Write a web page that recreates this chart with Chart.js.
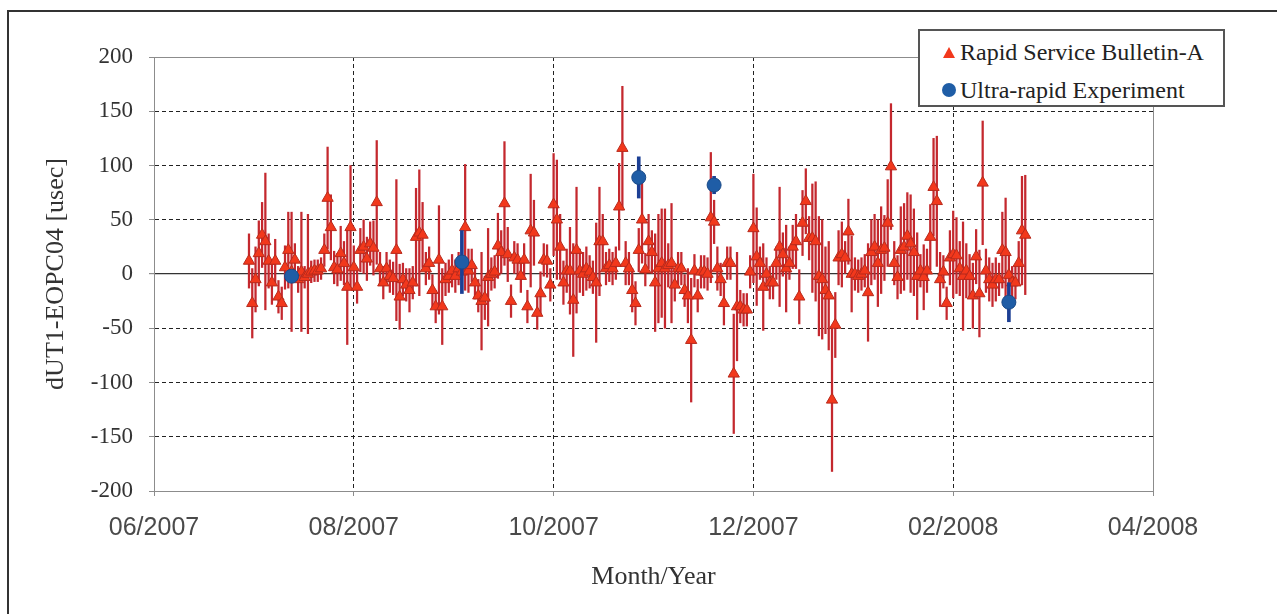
<!DOCTYPE html>
<html>
<head>
<meta charset="utf-8">
<script src="https://cdn.jsdelivr.net/npm/chart.js@4.4.1/dist/chart.umd.min.js"></script>
<style>
html,body{margin:0;padding:0;background:#fff;}
#wrap{position:relative;width:1277px;height:614px;overflow:hidden;background:#fff;}
#frame{position:absolute;left:7px;top:10px;width:1280px;height:620px;border-left:2px solid #333;border-top:2px solid #333;box-sizing:border-box;pointer-events:none;}
#c{position:absolute;left:0;top:0;}
#legend{position:absolute;left:918px;top:29px;width:307px;height:78px;box-sizing:border-box;border:2px solid #555;background:#fff;font-family:'Liberation Serif','DejaVu Serif',serif;font-size:24px;color:#222;}
.row{position:absolute;left:0;height:30px;line-height:30px;white-space:nowrap;}
.row .txt{position:absolute;left:40px;top:0;}
.tri{position:absolute;left:23px;top:10px;width:0;height:0;border-left:6px solid transparent;border-right:6px solid transparent;border-bottom:11px solid #F2381C;}
.dot{position:absolute;left:22px;top:8px;width:14px;height:14px;border-radius:50%;background:#1F5DA6;}
</style>
</head>
<body>
<div id="wrap">
  <canvas id="c" width="1277" height="614"></canvas>
  <div id="frame"></div>
  <div id="legend"></div>
</div>
<script>
// ---- data ----
// x axis: days since 2007-06-01; ticks every 61 days
const axisOrigin = '2007-06-01';
const tickDays   = [0, 61, 122, 183, 244, 305];
const tickLabels = ['06/2007','08/2007','10/2007','12/2007','02/2008','04/2008'];

// Rapid Service Bulletin-A: daily values starting 2007-06-30
const rapidStart = '2007-06-30';
const rapidValues = [
  12,-27,-5,19,36,30,12,-8,12,-21,
  -27,6,22,2,13,-5,2,-3,0,2,
  3,3,5,22,70,43,6,4,19,10,
  -12,43,6,-12,22,25,14,28,24,66,
  5,-8,5,-2,-4,22,-21,-5,-10,-15,
  -8,34,38,36,5,10,-15,-30,13,-30,
  -5,-2,3,-2,5,2,43,3,8,-8,
  -20,-25,-22,-3,0,2,26,20,65,18,
  -25,15,13,-2,13,-30,40,38,-36,-18,
  13,12,-10,64,50,25,-8,3,3,-24,
  22,3,0,5,2,-3,-8,30,30,5,
  8,5,10,62,116,10,5,-15,-27,22,
  50,4,30,20,-8,5,10,5,8,10,
  -10,5,5,-15,-20,-61,3,-20,2,2,
  0,52,48,5,-5,-27,10,10,-92,-30,
  -30,-33,-33,2,42,16,10,-12,0,-8,
  -8,10,25,18,5,10,25,30,-21,47,
  67,33,33,30,-2,-5,-15,-20,-116,-47,
  15,18,15,39,0,0,-2,0,3,-17,
  20,25,10,22,24,47,99,10,-3,22,
  25,35,28,20,-2,3,-3,3,34,80,
  67,-5,2,-27,15,18,17,5,-2,3,
  -2,-20,16,-18,84,3,-5,-10,-5,-5,
  22,20,-1,-8,-8,10,40,36
];
const rapidErrors = [
  25,32,30,30,30,63,25,20,20,15,
  15,20,35,55,15,12,55,10,55,10,
  10,10,10,15,47,30,15,15,25,20,
  53,57,20,15,20,25,20,20,25,57,
  15,15,15,15,15,65,30,15,15,20,
  15,45,58,30,15,15,15,15,50,35,
  15,15,15,15,15,15,58,20,15,15,
  15,45,20,45,15,15,30,20,57,25,
  15,15,15,15,15,15,52,30,15,20,
  15,15,15,47,55,30,20,20,40,52,
  58,20,20,20,15,15,55,50,25,15,
  15,15,15,40,57,20,15,20,20,20,
  40,15,25,20,45,50,50,55,20,55,
  15,15,15,15,25,57,15,15,15,15,
  15,60,20,20,15,20,15,15,55,50,
  15,15,15,15,50,45,15,40,15,15,
  15,15,55,20,40,15,20,25,25,30,
  30,20,50,55,55,55,40,50,66,30,
  25,30,15,30,35,15,15,15,15,45,
  30,30,40,40,30,40,58,20,20,40,
  40,40,45,40,40,15,30,20,30,45,
  60,25,15,15,25,40,35,25,50,25,
  20,30,25,40,57,20,20,20,20,15,
  35,50,20,15,15,20,50,55
];

// Ultra-rapid Experiment
const urDates  = ['2007-07-13','2007-09-03','2007-10-27','2007-11-19','2008-02-17'];
const urValues = [-2, 11, 89, 82, -26];
const urErrors = [4, 29, 19, 8, 18];

// ---- helpers ----
const DAY = 86400000;
function utc(s){ const [y,m,d]=s.split('-').map(Number); return Date.UTC(y,m-1,d); }
function dayNum(s){ return (utc(s)-utc(axisOrigin))/DAY; }
const rapidStartDay = dayNum(rapidStart);
const rapidX = rapidValues.map((v,i)=>rapidStartDay+i);
const urX = urDates.map(dayNum);

const rapidPts = rapidValues.map((v,i)=>({x:rapidX[i], y:v}));
const rapidBars = rapidValues.map((v,i)=>({x:rapidX[i], y:[v-rapidErrors[i], v+rapidErrors[i]]}));
const urPts = urValues.map((v,i)=>({x:urX[i], y:v}));
const urBars = urValues.map((v,i)=>({x:urX[i], y:[v-urErrors[i], v+urErrors[i]]}));

const xMin = tickDays[0], xMax = tickDays[tickDays.length-1];
const serif = "'Liberation Serif','DejaVu Serif',serif";

const chart = new Chart(document.getElementById('c'), {
  type: 'scatter',
  data: {
    datasets: [
      {type:'bar', label:'_rapidErr', data:rapidBars, backgroundColor:'#C4282E', borderWidth:0, barThickness:1.6, grouped:false, order:4},
      {type:'scatter', label:'Rapid Service Bulletin-A', data:rapidPts, pointStyle:'triangle', pointRadius:6.5, backgroundColor:'#F2381C', borderColor:'#B82A1C', borderWidth:1, order:3},
      {type:'bar', label:'_urErr', data:urBars, backgroundColor:'#1C3F94', borderWidth:0, barThickness:3, grouped:false, order:2},
      {type:'scatter', label:'Ultra-rapid Experiment', data:urPts, pointStyle:'circle', pointRadius:7, backgroundColor:'#1F5DA6', borderColor:'#1A4A88', borderWidth:1, order:1}
    ]
  },
  options: {
    responsive:false, animation:false, events:[],
    layout:{padding:{left:0, right:124, top:57, bottom:0}},
    plugins:{legend:{display:false}, tooltip:{enabled:false}},
    scales:{
      x:{
        type:'linear', min:xMin, max:xMax, offset:false,
        afterBuildTicks:(s)=>{ s.ticks = tickDays.map(v=>({value:v})); },
        afterFit:(s)=>{ s.height = 123; },
        ticks:{autoSkip:false, maxRotation:0, padding:17, color:'#4a4a4a',
          font:{family:"'Liberation Sans',sans-serif", size:25},
          callback:(v)=>{ const i = tickDays.indexOf(v); return i>=0 ? tickLabels[i] : ''; }},
        grid:{offset:false, drawTicks:true, tickLength:5, tickColor:'#8c8c8c', lineWidth:1,
          color:(ctx)=> (ctx.tick && (ctx.tick.value===xMin || ctx.tick.value===xMax)) ? '#8c8c8c' : '#222'},
        border:{display:true, color:'#8c8c8c', width:1,
          dash:(ctx)=> (ctx.tick && ctx.tick.value!==xMin && ctx.tick.value!==xMax) ? [4,3] : []},
        title:{display:true, text:'Month/Year', color:'#333', font:{family:serif, size:26}, padding:{top:0, bottom:21}}
      },
      y:{
        type:'linear', min:-200, max:200,
        afterFit:(s)=>{ s.width = 154; },
        ticks:{stepSize:50, padding:16, color:'#333', font:{family:serif, size:23}},
        grid:{drawTicks:true, tickLength:5, tickColor:'#8c8c8c', lineWidth:(ctx)=> (ctx.tick && ctx.tick.value===0) ? 1.2 : 1,
          color:(ctx)=>{ if(!ctx.tick) return '#8c8c8c'; const v=ctx.tick.value; if(v===0) return '#333'; if(v===200||v===-200) return '#8c8c8c'; return '#222'; }},
        border:{display:true, color:'#8c8c8c', width:1,
          dash:(ctx)=>{ if(!ctx.tick) return []; const v=ctx.tick.value; return (v===0||v===200||v===-200) ? [] : [4,3]; }},
        title:{display:true, text:'dUT1-EOPC04 [usec]', color:'#333', font:{family:serif, size:26}, padding:{top:41, bottom:0}}
      }
    }
  }
});

// HTML legend built from the dataset labels
const lg = document.getElementById('legend');
const items = chart.data.datasets.filter(d=>!d.label.startsWith('_'));
items.forEach((d,i)=>{
  const row = document.createElement('div');
  row.className='row';
  row.style.top = (i===0 ? 6 : 44) + 'px';
  row.style.width='100%';
  const m = document.createElement('span');
  m.className = d.pointStyle==='triangle' ? 'tri' : 'dot';
  const t = document.createElement('span');
  t.className='txt'; t.textContent = d.label;
  row.appendChild(m); row.appendChild(t);
  lg.appendChild(row);
});
</script>
</body>
</html>
